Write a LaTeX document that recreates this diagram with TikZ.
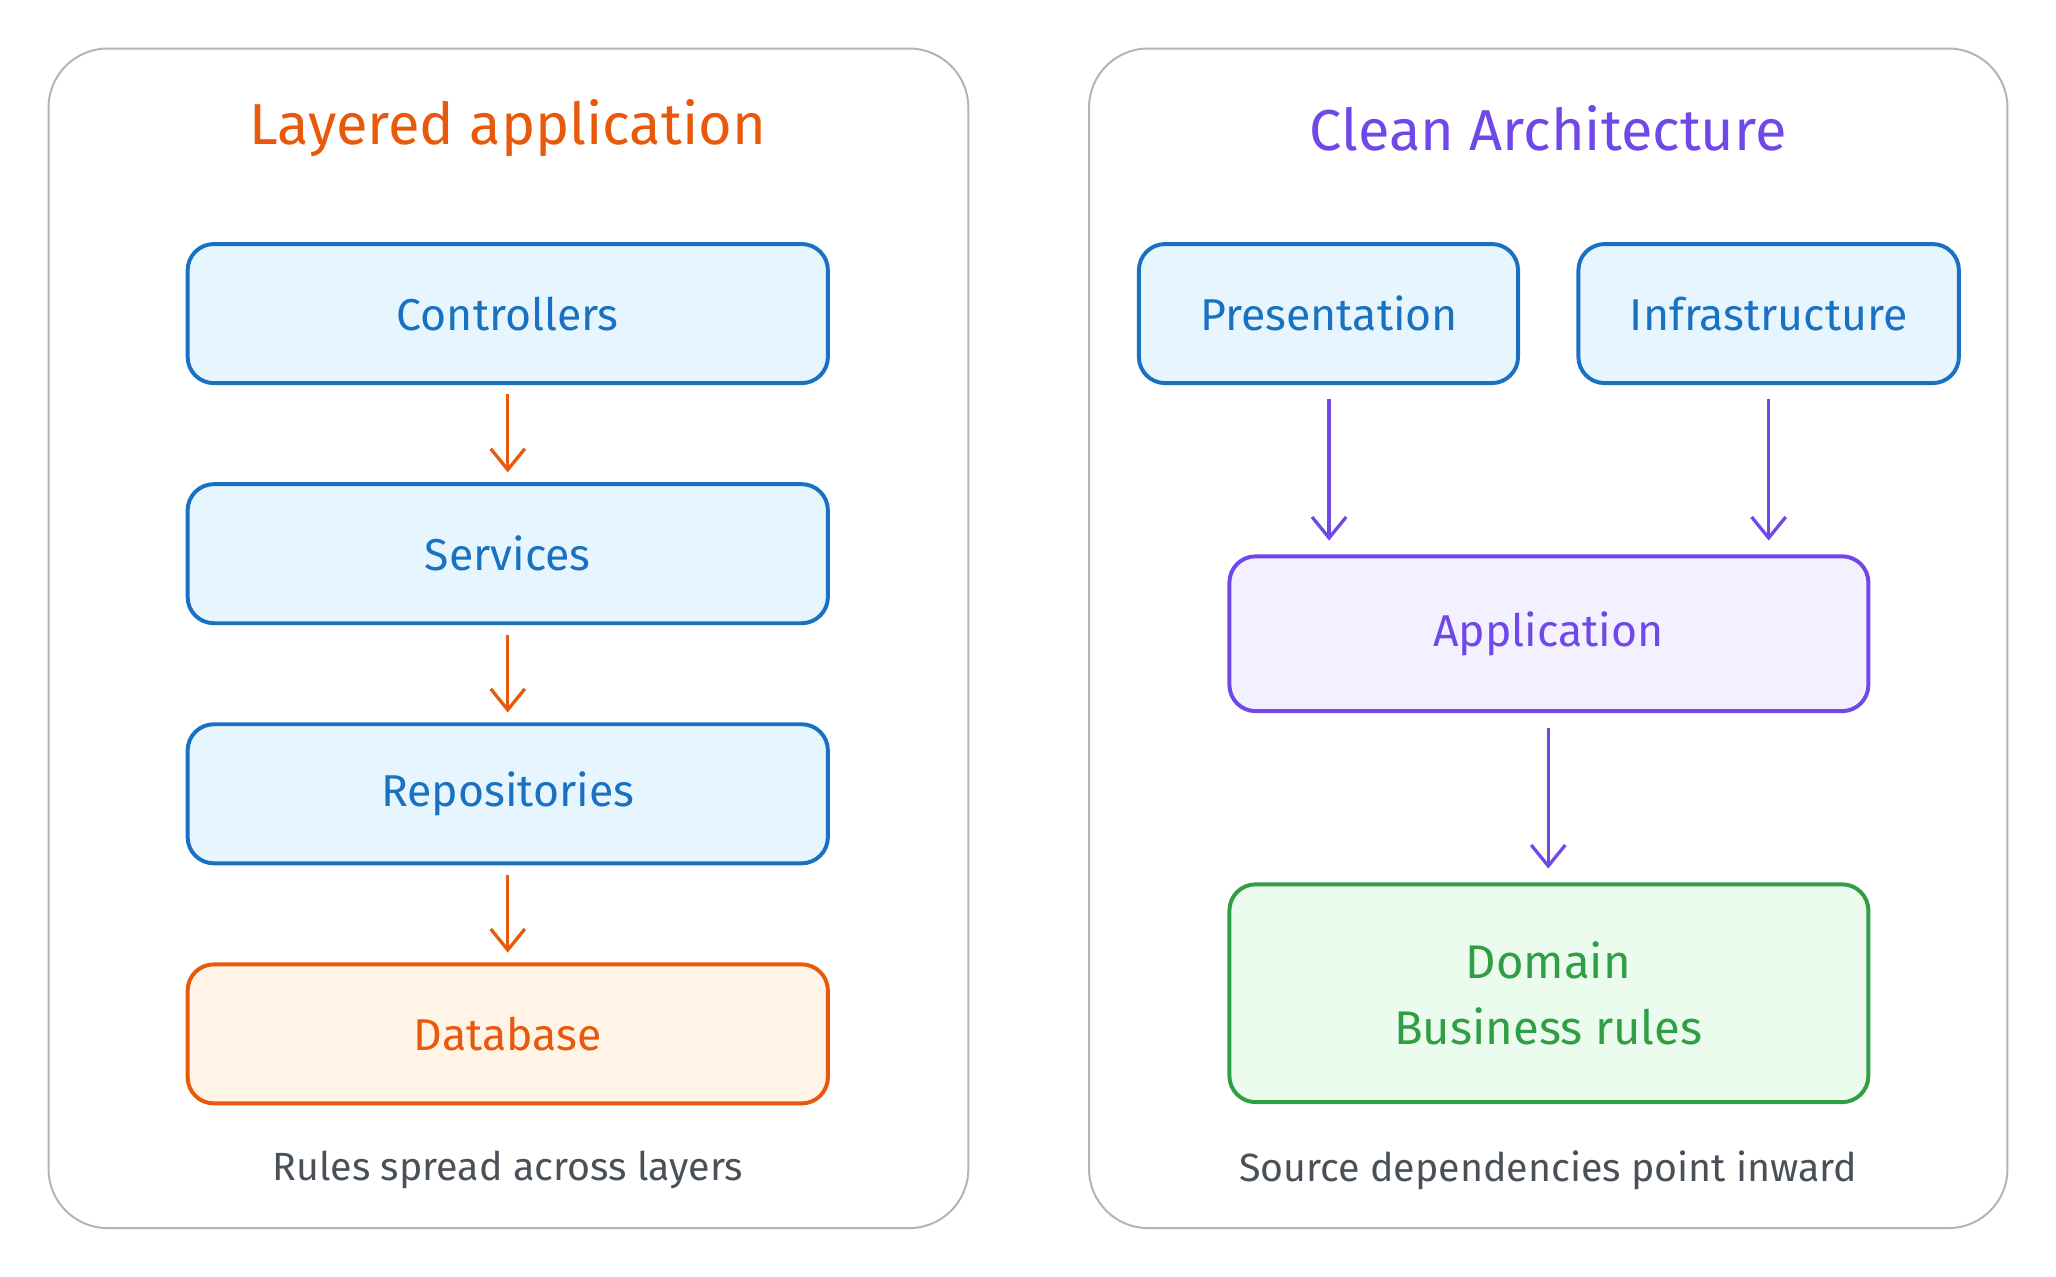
\documentclass[tikz,border=0pt]{standalone}
\usepackage{fontspec}
\setmainfont{Fira Sans}
\usetikzlibrary{arrows.meta}
\definecolor{blueS}{HTML}{1971C2}\definecolor{blueF}{HTML}{E7F5FF}
\definecolor{oraS}{HTML}{E8590C}\definecolor{oraF}{HTML}{FFF4E6}
\definecolor{purS}{HTML}{7048E8}\definecolor{purF}{HTML}{F3F0FF}
\definecolor{grnS}{HTML}{2F9E44}\definecolor{grnF}{HTML}{EBFBEE}
\definecolor{panel}{HTML}{ADB5BD}\definecolor{cap}{HTML}{495057}
\begin{document}
\begin{tikzpicture}[x=1pt,y=-1pt,
  panel/.style={draw=panel,line width=1.5pt,rounded corners=45pt},
  box/.style={line width=3pt,rounded corners=20pt},
  bl/.style={box,draw=blueS,fill=blueF},
  txt/.style={font=\fontsize{34}{40}\selectfont},
  arr/.style={line width=2.5pt,-{Straight Barb[length=16pt,width=26pt,line width=2.5pt]}}]
\useasboundingbox (0,0) rectangle (1567,973);
\fill[white] (0,0) rectangle (1567,973);
\draw[panel] (37,37) rectangle (738,936);
\draw[panel] (830,37) rectangle (1530,936);
\node[text=oraS,font=\fontsize{44}{50}\selectfont] (t1) at (387,98) {Layered application};
\node[text=purS,font=\fontsize{44}{50}\selectfont] (t2) at (1180,98) {Clean Architecture};
\draw[bl] (143,186) rectangle (631,292); \node[txt,text=blueS] (c) at (387,239) {Controllers};
\draw[bl] (143,369) rectangle (631,475); \node[txt,text=blueS] (s) at (387,422) {Services};
\draw[bl] (143,552) rectangle (631,658); \node[txt,text=blueS] (r) at (387,605) {Repositories};
\draw[box,draw=oraS,fill=oraF] (143,735) rectangle (631,841); \node[txt,text=oraS] (d) at (387,788) {Database};
\coordinate (a1) at (387,300); \coordinate (a2) at (387,360);
\coordinate (b1) at (387,484); \coordinate (b2) at (387,543);
\coordinate (e1) at (387,667); \coordinate (e2) at (387,726);
\draw[arr,oraS] (a1) -- (a2); \draw[arr,oraS] (b1) -- (b2); \draw[arr,oraS] (e1) -- (e2);
\node[text=cap,font=\fontsize{30}{36}\selectfont] (cap1) at (387,892) {Rules spread across layers};
\draw[bl] (868,186) rectangle (1157,292); \node[txt,text=blueS] (p) at (1013,239) {Presentation};
\draw[bl] (1203,186) rectangle (1493,292); \node[txt,text=blueS] (i) at (1348,239) {Infrastructure};
\draw[box,draw=purS,fill=purF] (937,424) rectangle (1424,542); \node[txt,text=purS] (ap) at (1180,483) {Application};
\draw[box,draw=grnS,fill=grnF] (937,674) rectangle (1424,840);
\node[txt,text=grnS,align=center,font=\fontsize{36}{50}\selectfont] (dm) at (1180,757) {Domain\\Business rules};
\coordinate (p1) at (1013,304); \coordinate (p2) at (1013,412);
\coordinate (i1) at (1348,304); \coordinate (i2) at (1348,412);
\coordinate (q1) at (1180,555); \coordinate (q2) at (1180,662);
\draw[arr,purS] (p1) -- (p2); \draw[arr,purS] (i1) -- (i2); \draw[arr,purS] (q1) -- (q2);
\node[text=cap,font=\fontsize{30}{36}\selectfont] (cap2) at (1180,892) {Source dependencies point inward};
\end{tikzpicture}
\end{document}
